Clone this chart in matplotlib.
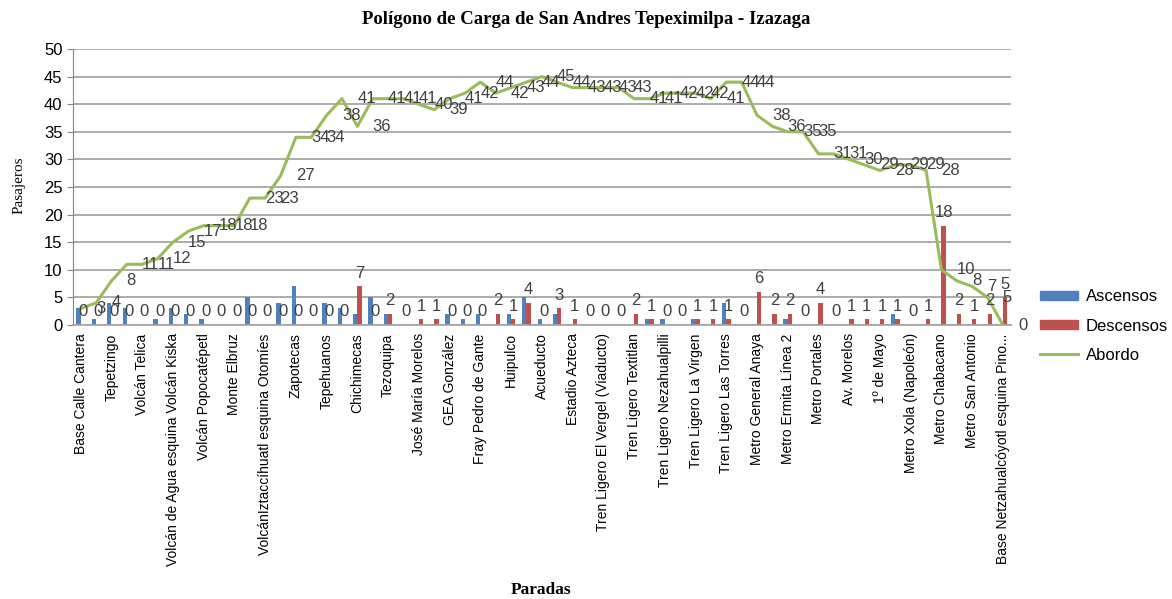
import numpy as np
import matplotlib.pyplot as plt
from matplotlib.patches import Patch
from matplotlib.lines import Line2D

plt.rcParams['font.family'] = ['Liberation Sans', 'DejaVu Sans']

# paradas que se muestran en el eje (una de cada dos)
paradas = ['Base Calle Cantera', 'Tepetzingo', 'Volcán Telica',
           'Volcán de Agua esquina Volcán Kiska', 'Volcán Popocatépetl',
           'Monte Elbruz', 'VolcánIztaccíhuatl esquina Otomíes', 'Zapotecas',
           'Tepehuanos', 'Chichimecas', 'Tezoquipa', 'José María Morelos',
           'GEA González', 'Fray Pedro de Gante', 'Huipulco', 'Acueducto',
           'Estadio Azteca', 'Tren Ligero El Vergel (Viaducto)',
           'Tren Ligero Textitlan', 'Tren Ligero Nezahualpilli',
           'Tren Ligero La Virgen', 'Tren Ligero Las Torres',
           'Metro General Anaya', 'Metro Ermita Línea 2', 'Metro Portales',
           'Av. Morelos', '1º de Mayo', 'Metro Xola (Napoleón)',
           'Metro Chabacano', 'Metro San Antonio',
           'Base Netzahualcóyotl esquina Pino...']

ascensos = [3, 1, 4, 3, 0, 1, 3, 2, 1, 0, 0, 5, 0, 4, 7, 0, 4, 3, 2, 5,
            2, 0, 0, 0, 2, 1, 2, 0, 2, 5, 1, 2, 0, 0, 0, 0, 0, 1, 1, 0,
            1, 0, 4, 0, 0, 0, 1, 0, 0, 0, 0, 0, 0, 2, 0, 0, 0, 0, 0, 0, 0]

descensos = [0, 0, 0, 0, 0, 0, 0, 0, 0, 0, 0, 0, 0, 0, 0, 0, 0, 0, 7, 0,
             2, 0, 1, 1, 0, 0, 0, 2, 1, 4, 0, 3, 1, 0, 0, 0, 2, 1, 0, 0,
             1, 1, 1, 0, 6, 2, 2, 0, 4, 0, 1, 1, 1, 1, 0, 1, 18, 2, 1, 2, 5]

abordo = [3, 4, 8, 11, 11, 12, 15, 17, 18, 18, 18, 23, 23, 27, 34, 34, 38, 41,
          36, 41, 41, 41, 40, 39, 41, 42, 44, 42, 43, 44, 45, 44, 43, 43, 43,
          43, 41, 41, 42, 42, 42, 41, 44, 44, 38, 36, 35, 35, 31, 31, 30, 29,
          28, 29, 29, 28, 10, 8, 7, 5, 0]

azul = '#4F81BD'
rojo = '#C0504D'
verde = '#9BBB59'
gris_txt = '#404040'

x = np.arange(len(abordo))
w = 0.28

fig = plt.figure(figsize=(11.72, 5.99), dpi=100)
ax = fig.add_axes([0.0623, 0.4574, 0.8, 0.4608])

ax.bar(x - w / 2, ascensos, width=w, color=azul, zorder=2)
ax.bar(x + w / 2, descensos, width=w, color=rojo, zorder=2)
ax.plot(x, abordo, color=verde, lw=2.2, zorder=3)

# etiquetas de descensos sobre las barras
for i, v in enumerate(descensos):
    ax.annotate(str(v), (x[i] + w / 2, v), xytext=(0, 4), textcoords='offset points',
                ha='center', va='bottom', fontsize=12, color=gris_txt, zorder=4)

# etiquetas de abordo a la derecha del punto
for i, v in enumerate(abordo):
    ax.annotate(str(v), (x[i], v), xytext=(11, 0), textcoords='offset points',
                ha='left', va='center', fontsize=12, color=gris_txt,
                annotation_clip=False, zorder=4)

ax.set_xlim(-0.5, len(abordo) - 0.5)
ax.set_ylim(0, 50)
ax.set_yticks(range(0, 51, 5))
ax.tick_params(axis='y', labelsize=12, length=4, color='#868686', labelcolor='black')
ax.set_xticks(x[::2])
ax.set_xticklabels(paradas, rotation=90, fontsize=10,
                   family=['Liberation Sans Narrow', 'Liberation Sans', 'DejaVu Sans'])
ax.tick_params(axis='x', length=0, pad=6)
ax.grid(axis='y', color='#A6A6A6', lw=1.3, zorder=0)
ax.set_axisbelow(True)
for s in ['top', 'right']:
    ax.spines[s].set_visible(False)
ax.spines['left'].set_color('#868686')
ax.spines['bottom'].set_color('#A6A6A6')
ax.spines['bottom'].set_linewidth(1.3)

fig.text(0.5, 0.968, 'Polígono de Carga de San Andres Tepeximilpa - Izazaga',
         ha='center', va='center', fontsize=13.5, fontweight='bold',
         family='Liberation Serif')
fig.text(0.016, 0.69, 'Pasajeros', rotation=90, ha='center', va='center',
         fontsize=11, family='Liberation Serif')
fig.text(0.462, 0.015, 'Paradas', ha='center', va='center', fontsize=12.5,
         fontweight='bold', family='Liberation Serif')

handles = [Patch(color=azul), Patch(color=rojo), Line2D([], [], color=verde, lw=2.2)]
fig.legend(handles, ['Ascensos', 'Descensos', 'Abordo'], loc='center left',
           bbox_to_anchor=(1040 / 1172, 1 - 326 / 599), frameon=False,
           fontsize=12, handlelength=2.3, handleheight=0.5, handletextpad=0.45,
           labelspacing=0.85, borderpad=0, borderaxespad=0)

plt.savefig('out.png', dpi=100)
